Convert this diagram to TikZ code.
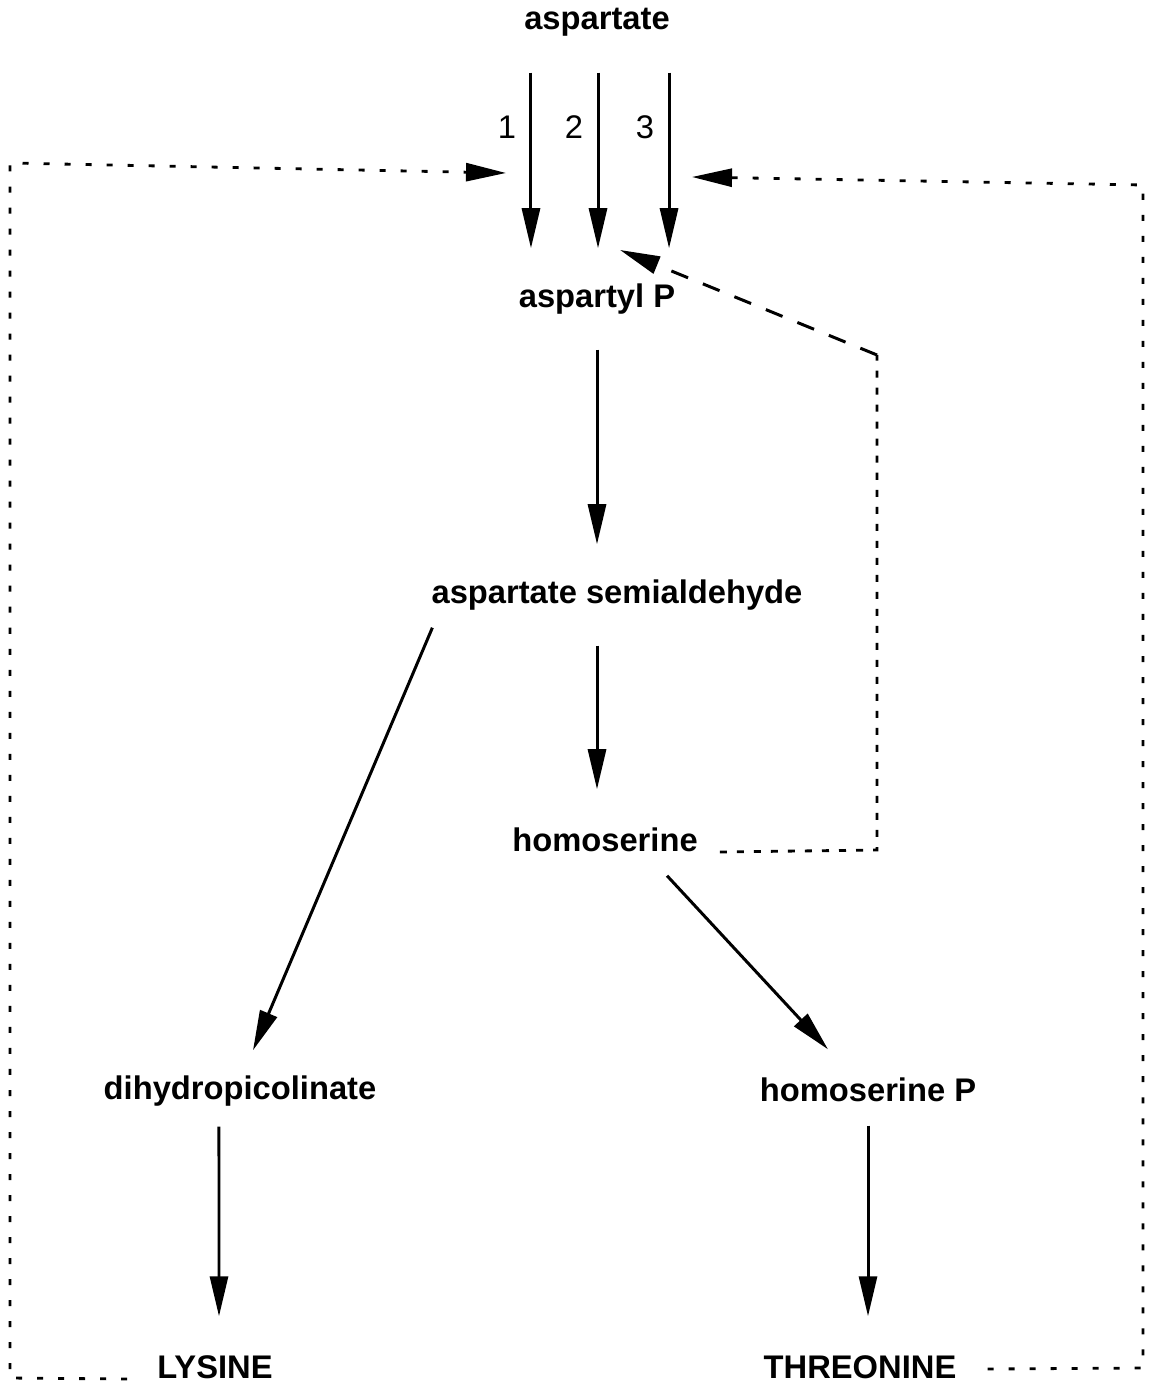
\documentclass[tikz,border=0pt]{standalone}
\usepackage{fontspec}
\setmainfont{Liberation Sans}
\usetikzlibrary{arrows.meta, positioning}

\tikzset{
  metab/.style={font=\fontsize{9.3pt}{11pt}\selectfont\bfseries, minimum height=1cm, inner sep=1pt},
  enz/.style={font=\fontsize{9.3pt}{11pt}\selectfont, inner sep=1pt},
  flow/.style={line width=0.85pt, -{Triangle[length=0.4cm, width=0.18cm]}},
  inhib/.style={line width=0.8pt, dash pattern=on 0.06cm off 0.15cm, -{Triangle[length=0.4cm, width=0.18cm]}},
  inhiblong/.style={line width=0.85pt, dash pattern=on 0.18cm off 0.16cm, -{Triangle[length=0.4cm, width=0.18cm]}}
}

\begin{document}
\begin{tikzpicture}[x=0.01cm, y=-0.01cm]
\useasboundingbox (0,0) rectangle (1152,1389);

% metabolites
\node[metab] (asp) at (597,22) {aspartate};
\node[metab] (aspP) at (597,299) {aspartyl P};
\node[metab] (asa) at (617,595) {aspartate semialdehyde};
\node[metab] (hom) at (605,840) {homoserine};
\node[metab] (dhp) at (240,1091) {dihydropicolinate};
\node[metab] (homP) at (868,1090) {homoserine P};
\node[metab] (lys) at (215,1367) {LYSINE};
\node[metab] (thr) at (860,1367) {THREONINE};

% the three kinases
\foreach \i/\dx in {1/-0.66, 2/0.01, 3/0.72}
  \draw[flow] ([xshift=\dx cm]asp.south) -- node[enz, pos=0.31, left=0.1cm] (k\i) {\i} ([xshift=\dx cm]aspP.north);

\draw[flow] (aspP.south) -- (aspP.south |- asa.north);
\draw[flow] (aspP.south |- asa.south) -- (aspP.south |- hom.north);
\draw[flow] ([xshift=0.05cm, yshift=0.18cm]asa.south west) -- ([xshift=0.13cm, yshift=-0.1cm]dhp.north);
\draw[flow] ([xshift=0.62cm, yshift=0.15cm]hom.south) -- ([xshift=-0.4cm, yshift=-0.1cm]homP.north);
\draw[flow] ([xshift=-0.21cm, yshift=0.15cm]dhp.south) -- ([xshift=0.04cm]lys.north);
\draw[flow] ([yshift=0.15cm]homP.south) -- (homP.south |- thr.north);

% feedback inhibition
\coordinate (akI) at (506,173);
\coordinate (akIII) at (692,177);
\coordinate (akII) at (620,250);
\coordinate (hbend) at (877,355);

\draw[inhib] ([xshift=-0.26cm, yshift=-0.12cm]lys.west) -- (10,1378) -- (10,163) -- (akI);
\draw[inhib] ([xshift=0.27cm, yshift=-0.02cm]thr.east) -- (1143,1368) -- (1143,185) -- (akIII);
\draw[line width=0.8pt, dash pattern=on 0.07cm off 0.1cm] ([xshift=0.18cm, yshift=-0.12cm]hom.east) -- (877,850) -- (hbend);
\draw[inhiblong] (hbend) -- (akII);
\end{tikzpicture}
\end{document}
